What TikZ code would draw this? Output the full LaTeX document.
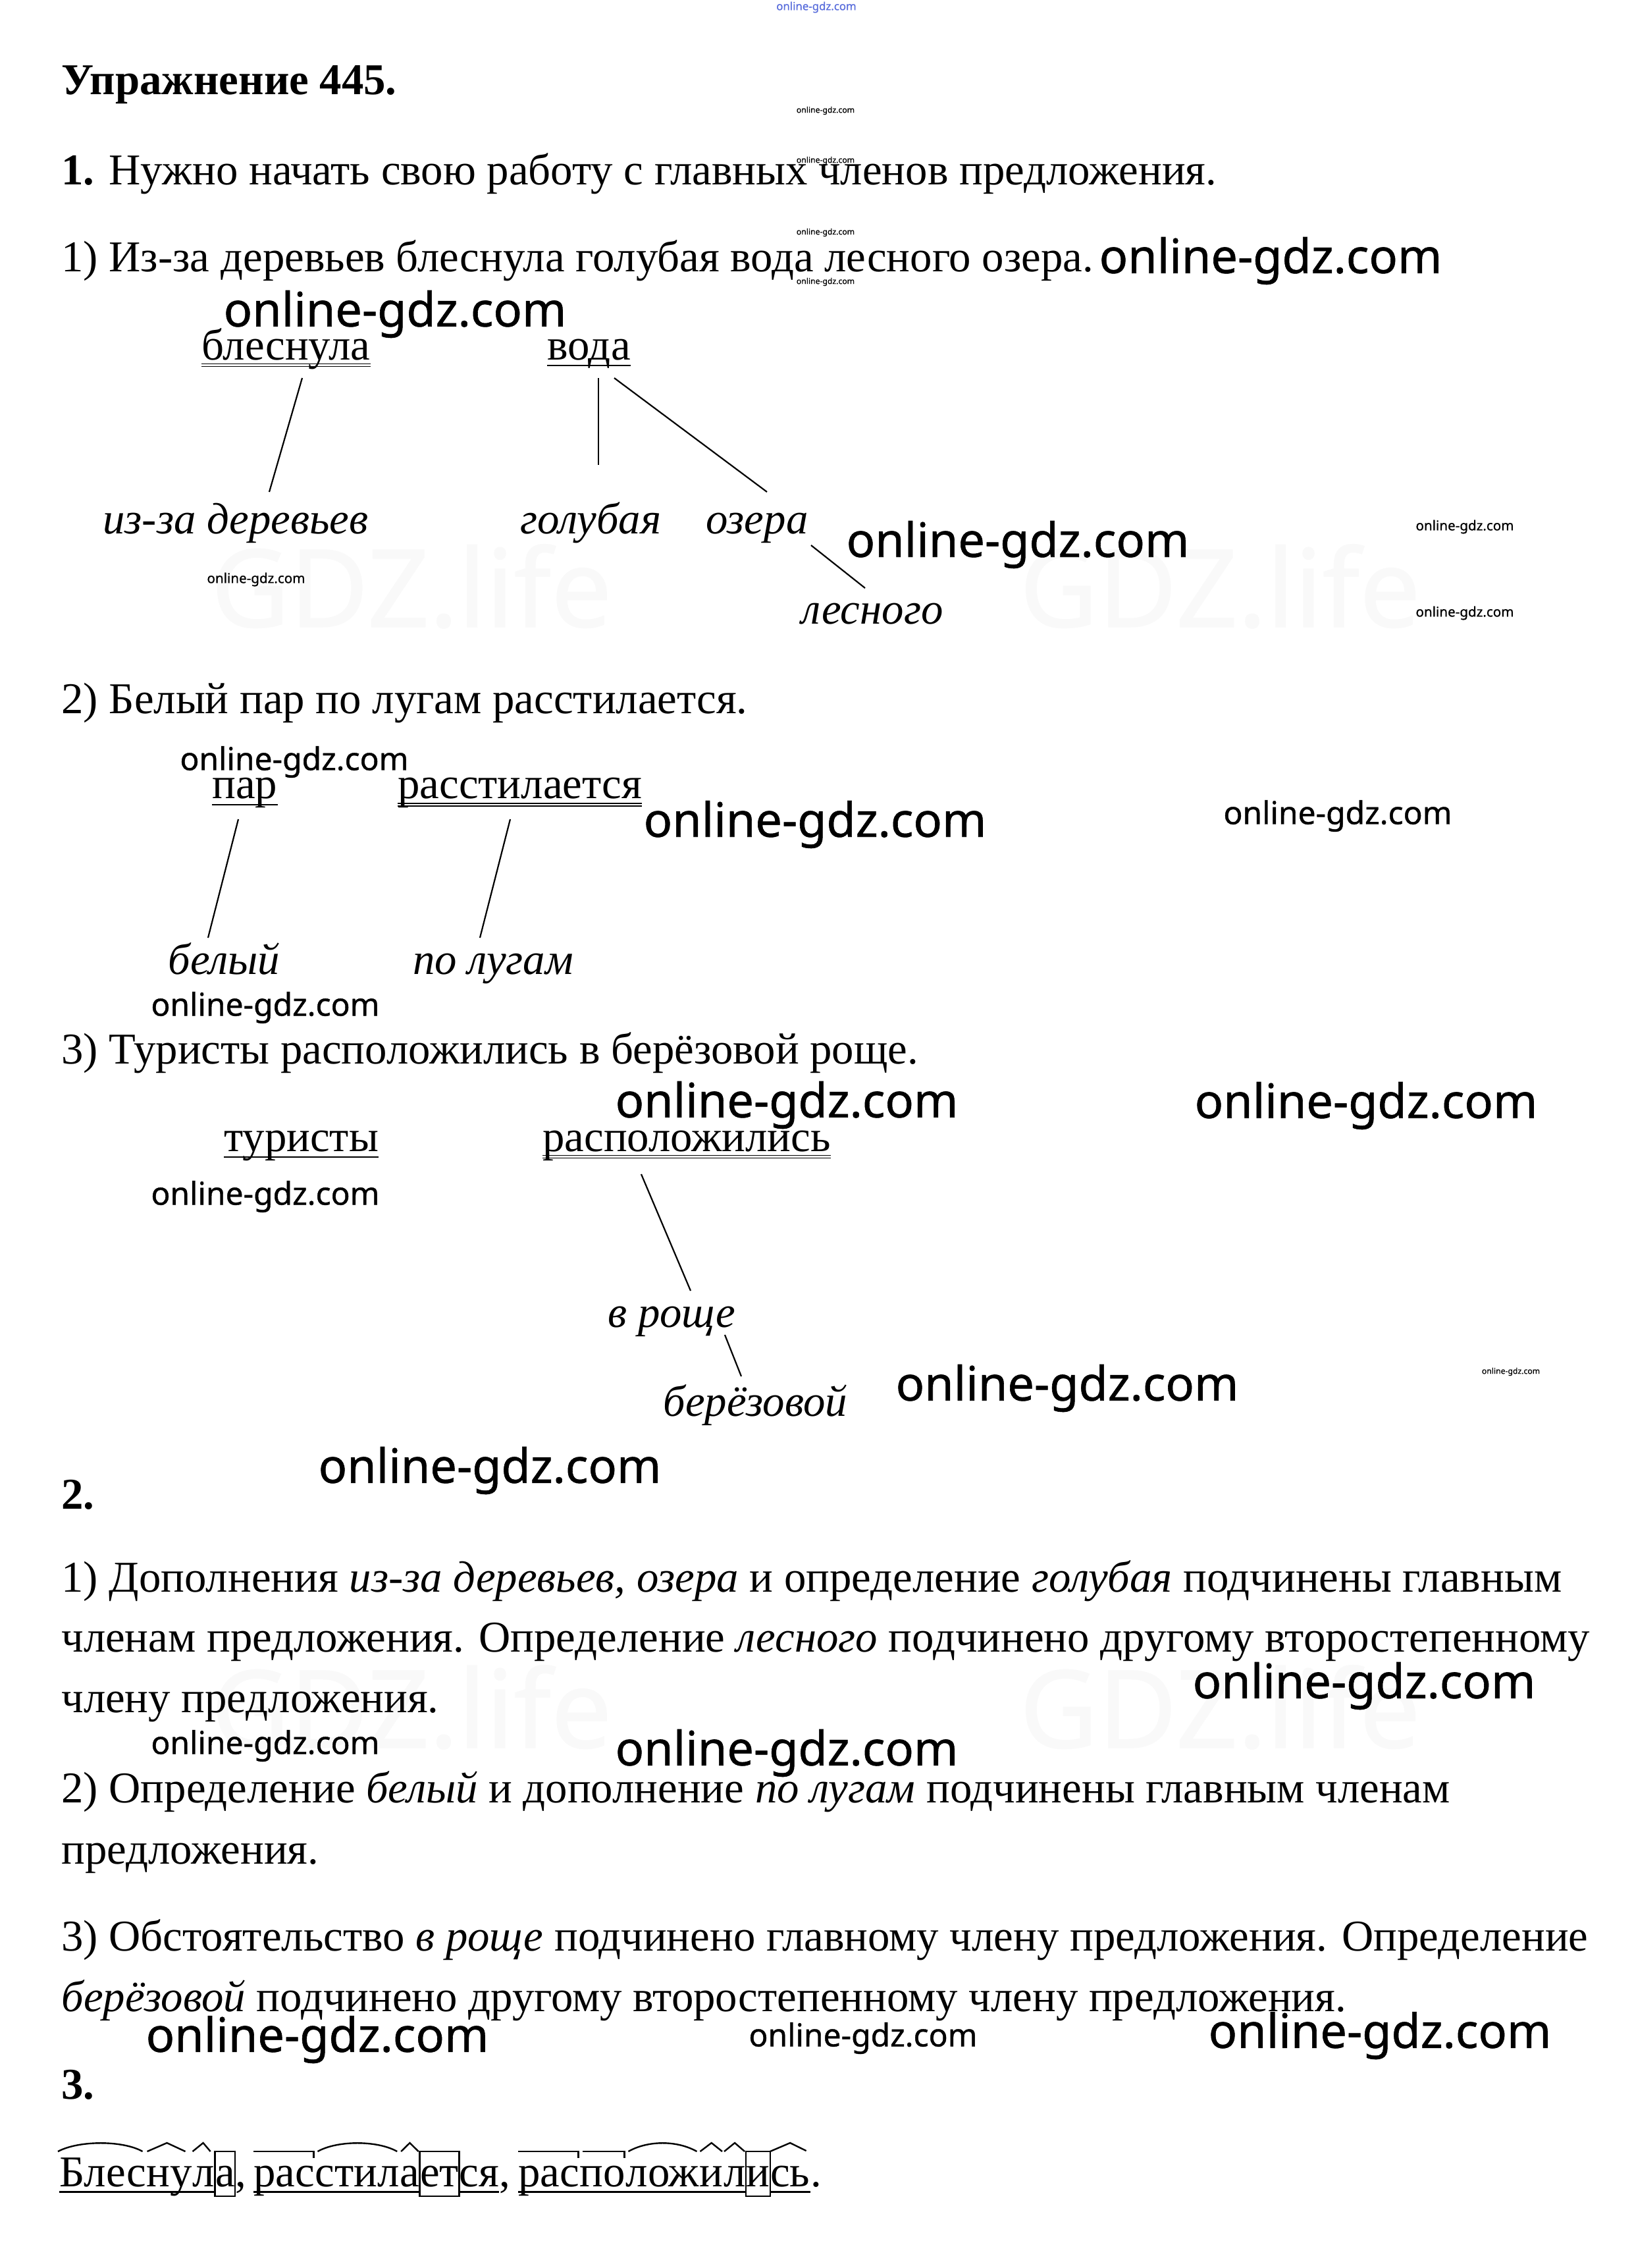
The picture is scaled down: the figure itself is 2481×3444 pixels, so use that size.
\documentclass[tikz,border=0pt]{standalone}
\usepackage{fontspec}
\setmainfont{Liberation Serif}
\newfontfamily\wmfont[FakeBold=0.8]{Noto Sans}
\usetikzlibrary{calc}
\newcommand\bodysize{\fontsize{33.4}{40}\selectfont}
\begin{document}
\begin{tikzpicture}[x=0.5pt,y=-0.5pt,
  txt/.style={inner sep=0pt, anchor=base west, font=\bodysize},
  itx/.style={inner sep=0pt, anchor=base west, font=\bodysize\itshape},
  wd/.style={inner sep=0pt, anchor=base west, font=\bodysize},
  con/.style={line width=1.1pt},
  subj/.style={line width=1.3pt},
  pred/.style={line width=0.6pt},
  mk/.style={line width=1.2pt},
  wmbig/.style={inner sep=0pt, font=\wmfont\fontsize{36}{40}\selectfont},
  wmmed/.style={inner sep=0pt, font=\wmfont\fontsize{24}{28}\selectfont},
  wmsm/.style={inner sep=0pt, font=\wmfont\fontsize{10.3}{12}\selectfont},
  wmtiny/.style={inner sep=0pt, font=\wmfont\fontsize{6.1}{7}\selectfont},
  faint/.style={inner sep=0pt, anchor=base, text=black!2.5, font=\wmfont\fontsize{82}{90}\selectfont}
]
\useasboundingbox (0,0) rectangle (2481,3444);
\fill[white] (0,0) rectangle (2481,3444);

% faint background watermarks
\node[faint] (g1) at (625,952) {GDZ.life};
\node[faint] (g2) at (1853,952) {GDZ.life};
\node[faint] (g3) at (625,2654) {GDZ.life};
\node[faint] (g4) at (1853,2654) {GDZ.life};

% heading
\node[txt, font=\bodysize\bfseries] (head) at (93,143) {Упражнение 445.};
\node[txt] (l1) at (93,280) {\textbf{1.} Нужно начать свою работу с главных членов предложения.};

% sentence 1
\node[txt] (s1) at (93,412) {1) Из-за деревьев блеснула голубая вода лесного озера.};
\node[txt] (d1a) at (306,546) {блеснула};
\node[txt] (d1b) at (831,546) {вода};
\node[itx] (d1c) at (156,810) {из-за деревьев};
\node[itx] (d1d) at (790,810) {голубая};
\node[itx] (d1e) at (1072,810) {озера};
\node[itx] (d1f) at (1217,947) {лесного};
\draw[pred] ($(d1a.base west)+(0,6.5)$) -- ($(d1a.base east)+(0,6.5)$);
\draw[pred] ($(d1a.base west)+(0,10.5)$) -- ($(d1a.base east)+(0,10.5)$);
\draw[subj] ($(d1b.base west)+(0,9)$) -- ($(d1b.base east)+(0,9)$);
\draw[con] ($(d1a.base west)+(153,28)$) -- ($(d1c.base west)+(253,-63)$);
\draw[con] ($(d1b.base west)+(78,28)$) -- ($(d1d.base west)+(119,-104)$);
\draw[con] ($(d1b.base west)+(102,28)$) -- ($(d1e.base west)+(93,-63)$);
\draw[con] ($(d1e.base west)+(160,18)$) -- ($(d1f.base west)+(97,-54)$);

% sentence 2
\node[txt] (s2) at (93,1083) {2) Белый пар по лугам расстилается.};
\node[txt] (d2a) at (322,1212) {пар};
\node[txt] (d2b) at (604,1212) {расстилается};
\node[itx] (d2c) at (255,1479) {белый};
\node[itx] (d2d) at (627,1479) {по лугам};
\draw[subj] ($(d2a.base west)+(0,10)$) -- ($(d2a.base east)+(0,10)$);
\draw[pred] ($(d2b.base west)+(0,8)$) -- ($(d2b.base east)+(0,8)$);
\draw[pred] ($(d2b.base west)+(0,12)$) -- ($(d2b.base east)+(0,12)$);
\draw[con] ($(d2a.base west)+(40,32)$) -- ($(d2c.base west)+(61,-55)$);
\draw[con] ($(d2b.base west)+(171,32)$) -- ($(d2d.base west)+(102,-55)$);

% sentence 3
\node[txt] (s3) at (93,1615) {3) Туристы расположились в берёзовой роще.};
\node[txt] (d3a) at (340,1748) {туристы};
\node[txt] (d3b) at (824,1748) {расположились};
\node[itx] (d3c) at (923,2015) {в роще};
\node[itx] (d3d) at (1007,2150) {берёзовой};
\draw[subj] ($(d3a.base west)+(0,9)$) -- ($(d3a.base east)+(0,9)$);
\draw[pred] ($(d3b.base west)+(0,6.5)$) -- ($(d3b.base east)+(0,6.5)$);
\draw[pred] ($(d3b.base west)+(0,10.5)$) -- ($(d3b.base east)+(0,10.5)$);
\draw[con] ($(d3b.base west)+(150,35)$) -- ($(d3c.base west)+(126,-55)$);
\draw[con] ($(d3c.base west)+(178,12)$) -- ($(d3d.base west)+(119,-60)$);

% part 2
\node[txt] (n2) at (93,2291) {\textbf{2.}};
\node[txt] (p1a) at (93,2417) {1) Дополнения \textit{из-за деревьев, озера} и определение \textit{голубая} подчинены главным};
\node[txt] (p1b) at (93,2508) {членам предложения. Определение \textit{лесного} подчинено другому второстепенному};
\node[txt] (p1c) at (93,2600) {члену предложения.};
\node[txt] (p2a) at (93,2737) {2) Определение \textit{белый} и дополнение \textit{по лугам} подчинены главным членам};
\node[txt] (p2b) at (93,2830) {предложения.};
\node[txt] (p3a) at (93,2962) {3) Обстоятельство \textit{в роще} подчинено главному члену предложения. Определение};
\node[txt] (p3b) at (93,3054) {\textit{берёзовой} подчинено другому второстепенному члену предложения.};

% part 3
\node[txt] (n3) at (93,3187) {\textbf{3.}};
\node[wd] (w1a) at (90,3320) {Блес};
\node[wd] (w1b) at (w1a.base east) {ну};
\node[wd] (w1c) at (w1b.base east) {л};
\node[wd] (w1d) at (w1c.base east) {а};
\node[wd] (w1e) at (w1d.base east) {,};
\node[wd] (w2a) at (385,3320) {рас};
\node[wd] (w2b) at (w2a.base east) {стил};
\node[wd] (w2c) at (w2b.base east) {а};
\node[wd] (w2d) at (w2c.base east) {ет};
\node[wd] (w2e) at (w2d.base east) {ся};
\node[wd] (w2f) at (w2e.base east) {,};
\node[wd] (w3a) at (787,3320) {рас};
\node[wd] (w3b) at (w3a.base east) {по};
\node[wd] (w3c) at (w3b.base east) {лож};
\node[wd] (w3d) at (w3c.base east) {и};
\node[wd] (w3e) at (w3d.base east) {л};
\node[wd] (w3f) at (w3e.base east) {и};
\node[wd] (w3g) at (w3f.base east) {сь};
\node[wd] (w3h) at (w3g.base east) {.};

% Блеснула
\draw[mk] ($(w1a.base west)+(-2,-53)$) .. controls ($(w1a.base west)+(30,-70)$) and ($(w1a.base east)+(-36,-70)$) .. ($(w1a.base east)+(-6,-53)$);
\draw[mk] ($(w1b.base west)+(1,-53)$) -- ($(w1b.base)+(-4,-66)$) -- ($(w1b.base east)+(-11,-53)$);
\draw[mk] ($(w1c.base west)+(0,-53)$) -- ($(w1c.base)+(-1,-66)$) -- ($(w1c.base east)+(-7,-53)$);
\draw[mk] ($(w1d.base west)+(0,-53)$) rectangle ($(w1d.base east)+(0,15)$);
\draw[line width=1.5pt] ($(w1a.base west)+(0,8)$) -- ($(w1c.base east)+(0,8)$);

% расстилается
\draw[mk] ($(w2a.base west)+(0,-53)$) -- ($(w2a.base east)+(-2,-53)$) -- ($(w2a.base east)+(-2,-43)$);
\draw[mk] ($(w2b.base west)+(4,-53)$) .. controls ($(w2b.base west)+(34,-70)$) and ($(w2b.base east)+(-34,-70)$) .. ($(w2b.base east)+(-4,-53)$);
\draw[mk] ($(w2c.base west)+(2,-53)$) -- ($(w2c.base)+(0,-66)$) -- ($(w2c.base east)+(-2,-53)$);
\draw[mk] ($(w2d.base west)+(0,-53)$) rectangle ($(w2d.base east)+(0,15)$);
\draw[line width=1.5pt] ($(w2a.base west)+(0,8)$) -- ($(w2c.base east)+(0,8)$);
\draw[line width=1.5pt] ($(w2e.base west)+(0,8)$) -- ($(w2e.base east)+(0,8)$);

% расположились
\draw[mk] ($(w3a.base west)+(0,-53)$) -- ($(w3a.base east)+(-2,-53)$) -- ($(w3a.base east)+(-2,-43)$);
\draw[mk] ($(w3b.base west)+(4,-53)$) -- ($(w3b.base east)+(-2,-53)$) -- ($(w3b.base east)+(-2,-43)$);
\draw[mk] ($(w3c.base west)+(4,-53)$) .. controls ($(w3c.base west)+(34,-70)$) and ($(w3c.base east)+(-34,-70)$) .. ($(w3c.base east)+(-4,-53)$);
\draw[mk] ($(w3d.base west)+(1,-53)$) -- ($(w3d.base)+(0,-66)$) -- ($(w3d.base east)+(-2,-53)$);
\draw[mk] ($(w3e.base west)+(1,-53)$) -- ($(w3e.base)+(0,-66)$) -- ($(w3e.base east)+(-2,-53)$);
\draw[mk] ($(w3f.base west)+(0,-53)$) rectangle ($(w3f.base east)+(0,15)$);
\draw[mk] ($(w3g.base west)+(0,-53)$) -- ($(w3g.base)+(0,-66)$) -- ($(w3g.base east)+(-6,-54)$);
\draw[line width=1.5pt] ($(w3a.base west)+(0,8)$) -- ($(w3e.base east)+(0,8)$);
\draw[line width=1.5pt] ($(w3g.base west)+(0,8)$) -- ($(w3g.base east)+(0,8)$);

% watermarks
\node[wmtiny, font=\wmfont\fontsize{8.4}{9}\selectfont, text={rgb,255:red,90;green,110;blue,220}] (t0) at (1240,11) {online-gdz.com};
\node[wmtiny] (t1) at (1254,168) {online-gdz.com};
\node[wmtiny] (t2) at (1254,244) {online-gdz.com};
\node[wmtiny] (t3) at (1254,353) {online-gdz.com};
\node[wmtiny] (t4) at (1254,428) {online-gdz.com};
\node[wmtiny] (t5) at (2295,2083) {online-gdz.com};
\node[wmsm] (m1) at (389,880) {online-gdz.com};
\node[wmsm] (m2) at (2225,800) {online-gdz.com};
\node[wmsm] (m3) at (2225,931) {online-gdz.com};
\node[wmmed] (e1) at (447,1157) {online-gdz.com};
\node[wmmed] (e2) at (2032,1239) {online-gdz.com};
\node[wmmed] (e3) at (403,1530) {online-gdz.com};
\node[wmmed] (e4) at (403,1817) {online-gdz.com};
\node[wmmed] (e5) at (403,2651) {online-gdz.com};
\node[wmmed] (e6) at (1311,3095) {online-gdz.com};
\node[wmbig] (b1) at (1930,396) {online-gdz.com};
\node[wmbig] (b2) at (600,477) {online-gdz.com};
\node[wmbig] (b3) at (1546,827) {online-gdz.com};
\node[wmbig] (b4) at (1238,1252) {online-gdz.com};
\node[wmbig] (b5) at (1195,1678) {online-gdz.com};
\node[wmbig] (b6) at (2075,1679) {online-gdz.com};
\node[wmbig] (b7) at (1621,2108) {online-gdz.com};
\node[wmbig] (b8) at (744,2233) {online-gdz.com};
\node[wmbig] (b9) at (2072,2560) {online-gdz.com};
\node[wmbig] (b10) at (1195,2662) {online-gdz.com};
\node[wmbig] (b11) at (482,3097) {online-gdz.com};
\node[wmbig] (b12) at (2096,3091) {online-gdz.com};
\end{tikzpicture}
\end{document}
